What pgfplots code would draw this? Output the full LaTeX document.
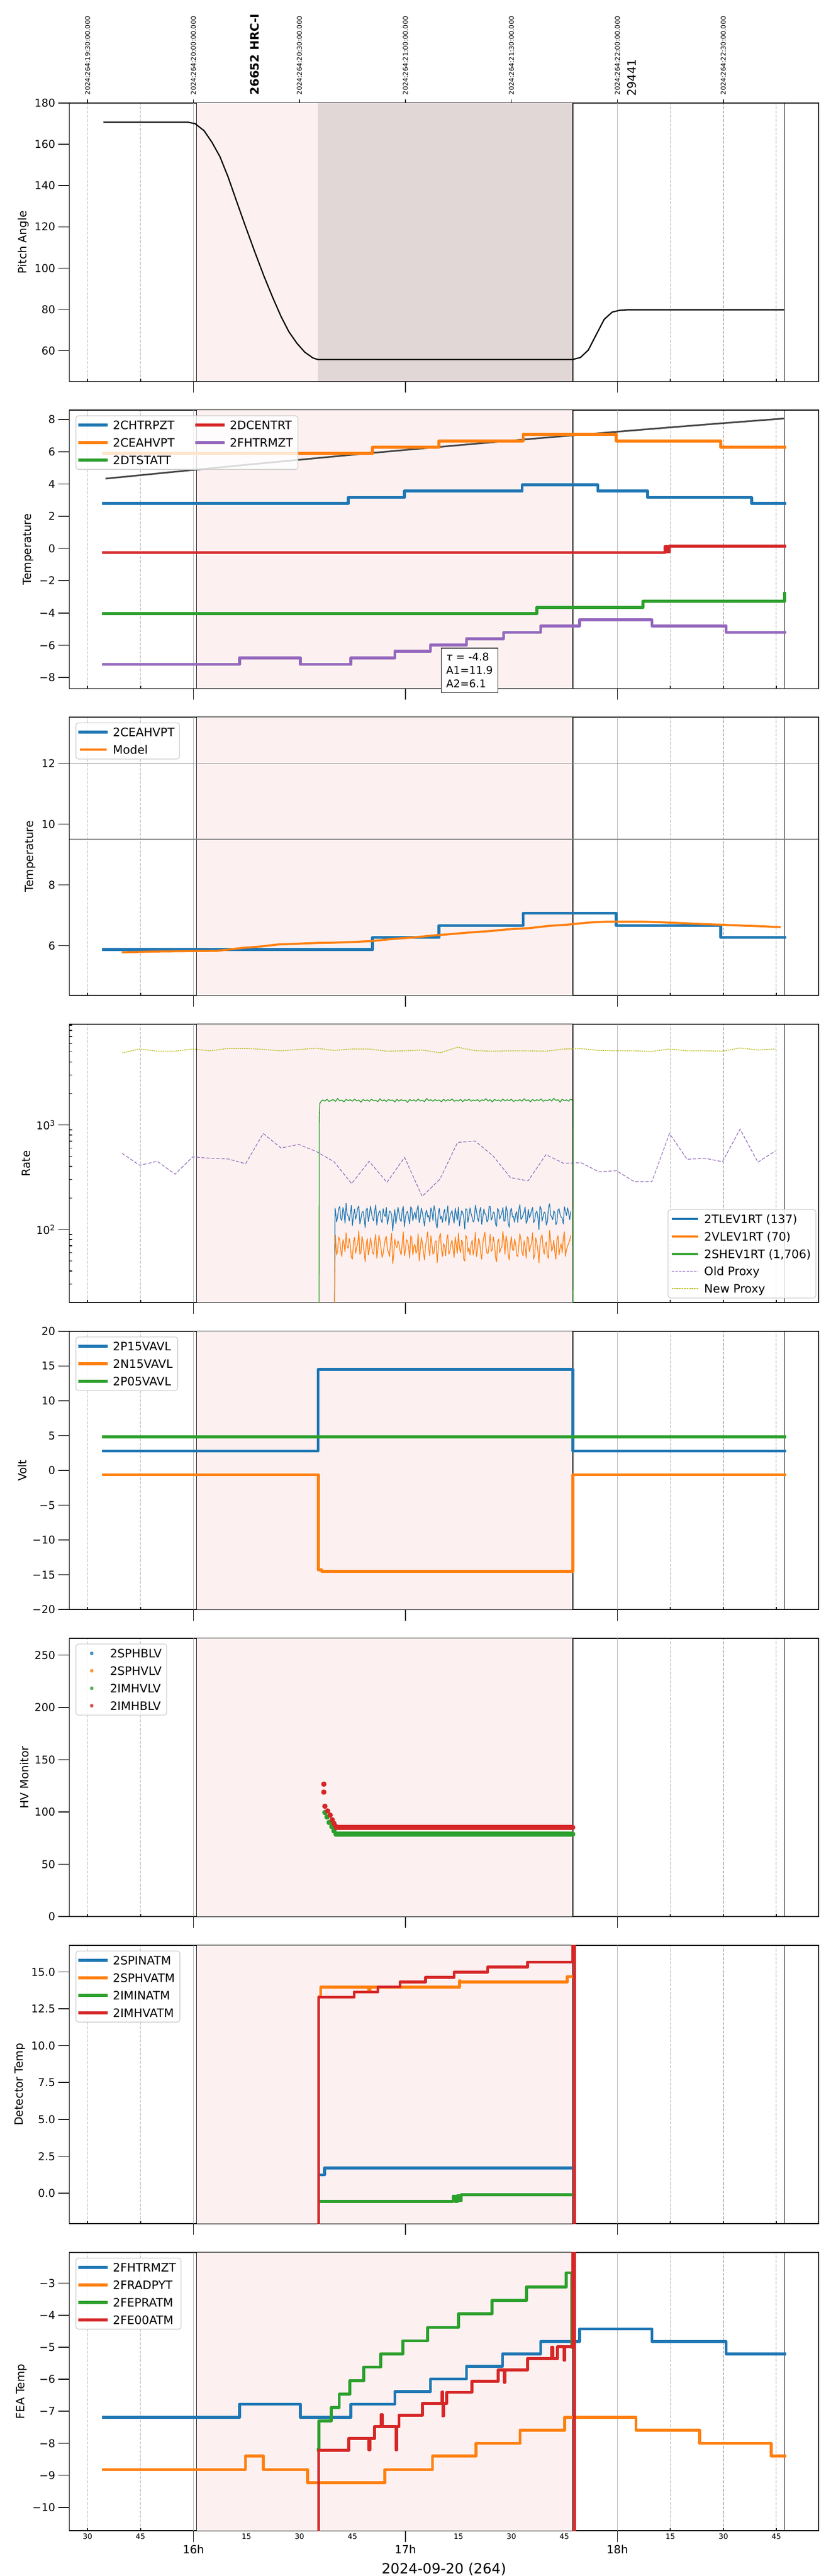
\documentclass[border=0pt]{standalone}
\usepackage{fontspec}
\setmainfont{DejaVu Sans}
\usepackage{pgfplots}
\pgfplotsset{compat=1.18}
\definecolor{C0}{HTML}{1F77B4}
\definecolor{C1}{HTML}{FF7F0E}
\definecolor{C2}{HTML}{2CA02C}
\definecolor{C3}{HTML}{D62728}
\definecolor{C4}{HTML}{9467BD}
\definecolor{C8}{HTML}{BCBD22}
\definecolor{gridgray}{HTML}{B0B0B0}
\definecolor{legframe}{HTML}{CCCCCC}
\definecolor{pinkbg}{HTML}{FCF0F0}
\newcommand{\fs}[1]{\fontsize{#1}{#1}\selectfont}
\pgfplotsset{
  panel/.style={
    scale only axis, width=901.5pt, height=335pt,
    xmin=15.4145, xmax=18.949,
    clip mode=individual,
    axis line style={line width=1pt},
    tick style={line width=1pt, color=black},
    tick align=inside,
    major tick length=3.5pt,
    xtick pos=bottom, ytick pos=left,
    xtick={15.5,15.75,16.25,16.5,16.75,17.25,17.5,17.75,18.25,18.5,18.75},
    xticklabels={},
    xmajorgrids=true,
    major grid style={gridgray, line width=0.65pt, dash pattern=on 3.5pt off 1.7pt},
    extra x ticks={16,17,18},
    extra x tick labels={},
    extra x tick style={tick align=outside, major tick length=13.5pt, xmajorgrids=true, major grid style={gridgray, line width=0.8pt, solid}},
    ytick=\empty,
    extra y tick style={tick align=outside, major tick length=13.5pt, ymajorgrids=false},
    tick label style={font=\fs{13}},
    ylabel style={font=\fs{13.5}},
    legend cell align=left,
    legend style={at={(0.0083,0.9806)}, anchor=north west, draw=legframe, line width=0.8pt,
      rounded corners=3pt, fill=white, fill opacity=0.8, text opacity=1, draw opacity=1,
      font=\fs{14}, inner sep=3pt, row sep=4.5pt,
      nodes={inner sep=3pt, text height=10.5pt, text depth=0pt},
      /tikz/every odd column/.append style={column sep=3pt},
      /tikz/every even column/.append style={column sep=22pt}},
    legend image code/.code={\draw[#1] (0pt,0pt) -- (32pt,0pt);},
  },
  dl/.style={line width=3.5pt, line join=round, line cap=rect, const plot},
}
\newcommand{\bg}{%
  \fill[pinkbg] ({axis cs:16.015,1}|-{rel axis cs:0,0}) rectangle ({axis cs:17.79,1}|-{rel axis cs:0,1});
  \draw[black, line width=0.6pt] ({axis cs:16.015,1}|-{rel axis cs:0,0}) -- ({axis cs:16.015,1}|-{rel axis cs:0,1});
  \draw[black, line width=0.85pt] ({axis cs:17.79,1}|-{rel axis cs:0,0}) -- ({axis cs:17.79,1}|-{rel axis cs:0,1});
  \draw[black, line width=0.85pt] ({axis cs:18.788,1}|-{rel axis cs:0,0}) -- ({axis cs:18.788,1}|-{rel axis cs:0,1});
}
\begin{document}
\begin{tikzpicture}
\path[use as bounding box] (0,0) rectangle (1000pt,-3100pt);

% ---------------- Panel 1: Pitch angle
\begin{axis}[panel, at={(83.5pt,-124pt)}, anchor=north west, ymin=45.1, ymax=180,
  extra y ticks={60,80,100,120,140,160,180}, extra y tick labels={60,80,100,120,140,160,180},
  ylabel={Pitch Angle}]
\bg
\fill[black, opacity=0.1] ({axis cs:16.587,1}|-{rel axis cs:0,0}) rectangle ({axis cs:17.79,1}|-{rel axis cs:0,1});
\addplot[black, line width=1.5pt, line join=round] coordinates {
(15.575,170.7) (15.975,170.7) (16.0075,170.0) (16.05,166.6) (16.087,161.0) (16.125,154.0)
(16.1625,144.4) (16.2,133.4) (16.242,121.2) (16.287,108.5) (16.333,96.0) (16.375,85.5)
(16.413,76.6) (16.45,69.2) (16.488,63.6) (16.525,59.3) (16.563,56.5) (16.587,55.7)
(17.788,55.7) (17.826,56.7) (17.863,60.3) (17.9,67.7) (17.938,75.2) (17.976,78.7)
(18.012,79.6) (18.05,79.8) (18.788,79.8)};
\draw[line width=1pt] (axis cs:15.5,180) -- ++(0pt,4.5pt);
\draw[line width=1pt] (axis cs:16.0,180) -- ++(0pt,4.5pt);
\draw[line width=1pt] (axis cs:16.5,180) -- ++(0pt,4.5pt);
\draw[line width=1pt] (axis cs:17.0,180) -- ++(0pt,4.5pt);
\draw[line width=1pt] (axis cs:17.5,180) -- ++(0pt,4.5pt);
\draw[line width=1pt] (axis cs:18.0,180) -- ++(0pt,4.5pt);
\draw[line width=1pt] (axis cs:18.5,180) -- ++(0pt,4.5pt);
\node[rotate=90, anchor=west, inner sep=0pt, font=\fs{8}] at (axis cs:15.5,180) {\hspace{9.6pt}2024:264:19:30:00.000};
\node[rotate=90, anchor=west, inner sep=0pt, font=\fs{8}] at (axis cs:16.0,180) {\hspace{9.6pt}2024:264:20:00:00.000};
\node[rotate=90, anchor=west, inner sep=0pt, font=\fs{8}] at (axis cs:16.5,180) {\hspace{9.6pt}2024:264:20:30:00.000};
\node[rotate=90, anchor=west, inner sep=0pt, font=\fs{8}] at (axis cs:17.0,180) {\hspace{9.6pt}2024:264:21:00:00.000};
\node[rotate=90, anchor=west, inner sep=0pt, font=\fs{8}] at (axis cs:17.5,180) {\hspace{9.6pt}2024:264:21:30:00.000};
\node[rotate=90, anchor=west, inner sep=0pt, font=\fs{8}] at (axis cs:18.0,180) {\hspace{9.6pt}2024:264:22:00:00.000};
\node[rotate=90, anchor=west, inner sep=0pt, font=\fs{8}] at (axis cs:18.5,180) {\hspace{9.6pt}2024:264:22:30:00.000};
\node[rotate=90, anchor=west, inner sep=0pt, font=\bfseries\fs{14}] at (axis cs:16.288,180) {\hspace{9.6pt}26652 HRC-I};
\node[rotate=90, anchor=west, inner sep=0pt, font=\fs{14}] at (axis cs:18.067,180) {\hspace{8pt}29441};
\end{axis}

% ---------------- Panel 2: Temperature
\begin{axis}[panel, at={(83.5pt,-493.5pt)}, anchor=north west, ymin=-8.68, ymax=8.58,
  extra y ticks={-8,-6,-4,-2,0,2,4,6,8}, extra y tick labels={−8,−6,−4,−2,0,2,4,6,8},
  ylabel={Temperature}, legend columns=2]
\bg
\addplot[black!72, line width=2pt, forget plot] coordinates {
(15.585,4.33) (16.0,4.87) (16.25,5.19) (16.5,5.50) (16.75,5.81) (17.0,6.11) (17.25,6.40)
(17.5,6.69) (17.75,6.97) (18.0,7.24) (18.25,7.51) (18.5,7.77) (18.789,8.06)};
\addplot[dl, C0] coordinates {(15.575,2.79) (16.730,3.16) (16.995,3.56) (17.551,3.94) (17.908,3.56) (18.143,3.16) (18.634,2.79) (18.789,2.79)};
\addlegendentry{2CHTRPZT}
\addplot[dl, C3] coordinates {(15.575,-0.25) (18.225,0.12) (18.235,-0.2) (18.245,0.14) (18.789,0.14)};
\addlegendentry{2DCENTRT}
\addplot[dl, C1] coordinates {(15.575,5.90) (16.845,6.28) (17.158,6.67) (17.556,7.08) (17.995,6.67) (18.488,6.28) (18.789,6.28)};
\addlegendentry{2CEAHVPT}
\addplot[dl, C4] coordinates {(15.575,-7.19) (16.217,-6.78) (16.505,-7.19) (16.743,-6.78) (16.950,-6.38) (17.118,-5.98) (17.288,-5.60) (17.463,-5.20) (17.638,-4.81) (17.821,-4.43) (18.163,-4.81) (18.513,-5.20) (18.789,-5.20)};
\addlegendentry{2FHTRMZT}
\addplot[dl, C2] coordinates {(15.575,-4.04) (17.620,-3.66) (18.121,-3.27) (18.785,-3.27) (18.789,-2.80)};
\addlegendentry{2DTSTATT}
\node[draw=black, line width=1pt, fill=white, anchor=north west, align=left, inner sep=6pt,
  font=\fontsize{12.8}{16}\selectfont] at (axis cs:17.167,-6.15) {\textit{τ} = -4.8\\A1=11.9\\A2=6.1};
\end{axis}

% ---------------- Panel 3: Temperature (model)
\begin{axis}[panel, at={(83.5pt,-863pt)}, anchor=north west, ymin=4.36, ymax=13.52,
  extra y ticks={6,8,10,12}, extra y tick labels={6,8,10,12},
  ylabel={Temperature}]
\bg
\addplot[gray, line width=1pt, forget plot] coordinates {(15.4145,12) (18.949,12)};
\addplot[gray, line width=1pt, forget plot] coordinates {(15.4145,9.5) (18.949,9.5)};
\addplot[dl, C0] coordinates {(15.575,5.87) (16.845,6.27) (17.158,6.66) (17.556,7.07) (17.995,6.66) (18.488,6.27) (18.789,6.27)};
\addlegendentry{2CEAHVPT}
\addplot[C1, line width=2.5pt, line join=round] coordinates {
(15.662,5.78) (15.837,5.81) (16.113,5.83) (16.237,5.93) (16.313,5.97) (16.400,6.04)
(16.588,6.09) (16.663,6.10) (16.750,6.12) (16.838,6.15) (16.938,6.22) (17.038,6.27)
(17.138,6.34) (17.213,6.38) (17.313,6.44) (17.400,6.48) (17.488,6.54) (17.588,6.58)
(17.676,6.65) (17.763,6.69) (17.863,6.76) (17.951,6.79) (18.126,6.79) (18.238,6.76)
(18.313,6.74) (18.401,6.71) (18.488,6.69) (18.588,6.66) (18.676,6.64) (18.771,6.61)};
\addlegendentry{Model}
\end{axis}

% ---------------- Panel 4: Rate (log)
\begin{axis}[panel, at={(83.5pt,-1232.5pt)}, anchor=north west, ymode=log, ymin=20, ymax=9200,
  ytick={20,30,40,50,60,70,80,90,200,300,400,500,600,700,800,900,2000,3000,4000,5000,6000,7000,8000,9000},
  yticklabels={},
  extra y ticks={100,1000}, extra y tick labels={10\textsuperscript{2},10\textsuperscript{3}},
  ylabel={Rate},
  legend style={at={(0.997,0.015)}, anchor=south east}]
\bg
\addplot[C8, line width=1pt, dash pattern=on 1.6pt off 1pt, forget plot] coordinates {
(15.663,4877) (15.746,5325) (15.829,5072) (15.913,5072) (15.996,5325) (16.079,5117) (16.163,5395)
(16.246,5395) (16.329,5277) (16.413,5117) (16.496,5257) (16.579,5420) (16.663,5163) (16.746,5325)
(16.829,5325) (16.913,5072) (16.996,5117) (17.079,5212) (17.163,4898) (17.246,5536) (17.329,5140)
(17.413,5072) (17.496,5117) (17.579,5117) (17.663,5072) (17.746,5325) (17.829,5370) (17.913,5163)
(17.996,5117) (18.079,5117) (18.163,5047) (18.246,5325) (18.329,5117) (18.413,5117) (18.496,5072)
(18.579,5445) (18.663,5212) (18.746,5325)};
\addplot[C4, line width=0.8pt, dash pattern=on 4pt off 2pt, forget plot] coordinates {
(15.663,535) (15.746,411) (15.829,449) (15.913,338) (15.996,494) (16.079,480) (16.163,473)
(16.246,426) (16.329,828) (16.413,602) (16.496,651) (16.579,558) (16.663,445) (16.746,275)
(16.829,449) (16.913,282) (16.996,490) (17.079,207) (17.163,303) (17.246,680) (17.329,701)
(17.413,507) (17.496,313) (17.579,292) (17.663,519) (17.746,430) (17.829,435) (17.913,356)
(17.996,365) (18.079,287) (18.163,287) (18.246,828) (18.329,469) (18.413,480) (18.496,445)
(18.579,912) (18.663,440) (18.746,564)};
\addplot[C2, line width=1pt, line join=round, forget plot] coordinates {
(16.5925,5) (16.5935,1200) (16.596,1600)
(16.60,1660) (16.61,1735) (16.62,1690) (16.63,1760) (16.64,1675) (16.65,1720) (16.66,1745) (16.67,1680)
(16.68,1790) (16.69,1700) (16.70,1725) (16.71,1665) (16.72,1755) (16.73,1710) (16.74,1740) (16.75,1685)
(16.76,1770) (16.77,1695) (16.78,1730) (16.79,1650) (16.80,1750) (16.81,1705) (16.82,1735) (16.83,1680)
(16.84,1765) (16.85,1700) (16.86,1720) (16.87,1670) (16.88,1780) (16.89,1695) (16.90,1740) (16.91,1675)
(16.92,1750) (16.93,1715) (16.94,1730) (16.95,1660) (16.96,1760) (16.97,1690) (16.98,1745) (16.99,1705)
(17.00,1725) (17.01,1640) (17.02,1755) (17.03,1700) (17.04,1735) (17.05,1680) (17.06,1770) (17.07,1695)
(17.08,1720) (17.09,1670) (17.10,1790) (17.11,1710) (17.12,1740) (17.13,1685) (17.14,1750) (17.15,1700)
(17.16,1730) (17.17,1665) (17.18,1760) (17.19,1690) (17.20,1745) (17.21,1705) (17.22,1775) (17.23,1680)
(17.24,1725) (17.25,1695) (17.26,1755) (17.27,1670) (17.28,1740) (17.29,1710) (17.30,1765) (17.31,1685)
(17.32,1730) (17.33,1700) (17.34,1750) (17.35,1675) (17.36,1735) (17.37,1715) (17.38,1785) (17.39,1690)
(17.40,1745) (17.41,1660) (17.42,1755) (17.43,1705) (17.44,1730) (17.45,1680) (17.46,1770) (17.47,1695)
(17.48,1740) (17.49,1710) (17.50,1760) (17.51,1675) (17.52,1725) (17.53,1700) (17.54,1750) (17.55,1685)
(17.56,1780) (17.57,1705) (17.58,1735) (17.59,1665) (17.60,1755) (17.61,1695) (17.62,1740) (17.63,1710)
(17.64,1775) (17.65,1680) (17.66,1730) (17.67,1700) (17.68,1760) (17.69,1690) (17.70,1795) (17.71,1715)
(17.72,1745) (17.73,1650) (17.74,1765) (17.75,1705) (17.76,1735) (17.77,1685) (17.78,1770) (17.788,1720)
(17.790,5)};
\addplot[C0, line width=0.9pt, line join=round, forget plot] coordinates {
(16.664,5) (16.668,160)
(16.670,152) (16.675,118) (16.680,131) (16.685,158) (16.690,166) (16.695,127) (16.700,122) (16.705,162) (16.710,148) (16.715,115) (16.720,178) (16.725,140) (16.730,134) (16.735,121) (16.740,141) (16.745,170)
(16.750,109) (16.755,136) (16.760,157) (16.765,125) (16.770,139) (16.775,160) (16.780,168) (16.785,113) (16.790,126) (16.795,145) (16.800,149) (16.805,130) (16.810,104) (16.815,155) (16.820,160) (16.825,119)
(16.830,136) (16.835,167) (16.840,144) (16.845,128) (16.850,121) (16.855,150) (16.860,172) (16.865,110) (16.870,133) (16.875,146) (16.880,151) (16.885,124) (16.890,116) (16.895,158) (16.900,139) (16.905,133)
(16.910,163) (16.915,112) (16.920,128) (16.925,150) (16.930,147) (16.935,138) (16.940,97) (16.945,127) (16.950,155) (16.955,114) (16.960,135) (16.965,163) (16.970,142) (16.975,124) (16.980,119) (16.985,153)
(16.990,166) (16.995,106) (17.000,131) (17.005,144) (17.010,149) (17.015,129) (17.020,113) (17.025,165) (17.030,158) (17.035,121) (17.040,137) (17.045,147) (17.050,125) (17.055,155) (17.060,170) (17.065,116)
(17.070,130) (17.075,160) (17.080,145) (17.085,127) (17.090,108) (17.095,141) (17.100,153) (17.105,132) (17.110,136) (17.115,118) (17.120,161) (17.125,149) (17.130,122) (17.135,169) (17.140,150) (17.145,112)
(17.150,103) (17.155,141) (17.160,159) (17.165,126) (17.170,134) (17.175,117) (17.180,143) (17.185,156) (17.190,120) (17.195,138) (17.200,168) (17.205,110) (17.210,132) (17.215,143) (17.220,152) (17.225,127)
(17.230,115) (17.235,160) (17.240,139) (17.245,123) (17.250,164) (17.255,108) (17.260,127) (17.265,151) (17.270,146) (17.275,132) (17.280,101) (17.285,158) (17.290,155) (17.295,117) (17.300,136) (17.305,161)
(17.310,141) (17.315,130) (17.320,118) (17.325,124) (17.330,171) (17.335,151) (17.340,130) (17.345,119) (17.350,148) (17.355,163) (17.360,112) (17.365,129) (17.370,157) (17.375,142) (17.380,138) (17.385,118)
(17.390,124) (17.395,166) (17.400,166) (17.405,123) (17.410,131) (17.415,147) (17.420,144) (17.425,113) (17.430,107) (17.435,159) (17.440,152) (17.445,126) (17.450,135) (17.455,144) (17.460,162) (17.465,120)
(17.470,121) (17.475,168) (17.480,149) (17.485,115) (17.490,105) (17.495,150) (17.500,160) (17.505,132) (17.510,133) (17.515,117) (17.520,140) (17.525,148) (17.530,117) (17.535,154) (17.540,173) (17.545,125)
(17.550,129) (17.555,138) (17.560,147) (17.565,164) (17.570,114) (17.575,122) (17.580,156) (17.585,129) (17.590,137) (17.595,152) (17.600,163) (17.605,116) (17.610,123) (17.615,143) (17.620,150) (17.625,131)
(17.630,100) (17.635,167) (17.640,158) (17.645,120) (17.650,134) (17.655,147) (17.660,142) (17.665,110) (17.670,119) (17.675,162) (17.680,176) (17.685,137) (17.690,132) (17.695,124) (17.700,151) (17.705,144)
(17.710,111) (17.715,118) (17.720,154) (17.725,158) (17.730,139) (17.735,131) (17.740,128) (17.745,113) (17.750,165) (17.755,150) (17.760,136) (17.765,161) (17.770,145) (17.775,124) (17.780,149)};
\addplot[C1, line width=0.9pt, line join=round, forget plot] coordinates {
(16.662,5) (16.668,55)
(16.670,88) (16.675,57) (16.680,62) (16.685,85) (16.690,79) (16.695,63) (16.700,55) (16.705,80) (16.710,74) (16.715,61) (16.720,93) (16.725,69) (16.730,66) (16.735,82) (16.740,71) (16.745,54)
(16.750,52) (16.755,76) (16.760,84) (16.765,59) (16.770,68) (16.775,73) (16.780,97) (16.785,58) (16.790,60) (16.795,86) (16.800,76) (16.805,62) (16.810,49) (16.815,71) (16.820,82) (16.825,57)
(16.830,65) (16.835,83) (16.840,73) (16.845,60) (16.850,58) (16.855,77) (16.860,90) (16.865,53) (16.870,64) (16.875,88) (16.880,78) (16.885,66) (16.890,54) (16.895,59) (16.900,70) (16.905,81)
(16.910,86) (16.915,64) (16.920,61) (16.925,55) (16.930,75) (16.935,92) (16.940,47) (16.945,58) (16.950,81) (16.955,70) (16.960,67) (16.965,78) (16.970,72) (16.975,62) (16.980,57) (16.985,74)
(16.990,95) (16.995,56) (17.000,63) (17.005,80) (17.010,77) (17.015,68) (17.020,53) (17.025,87) (17.030,83) (17.035,57) (17.040,69) (17.045,72) (17.050,59) (17.055,63) (17.060,91) (17.065,50)
(17.070,64) (17.075,84) (17.080,74) (17.085,61) (17.090,51) (17.095,70) (17.100,80) (17.105,95) (17.110,66) (17.115,56) (17.120,87) (17.125,73) (17.130,58) (17.135,60) (17.140,76) (17.145,78)
(17.150,48) (17.155,66) (17.160,84) (17.165,92) (17.170,65) (17.175,55) (17.180,73) (17.185,69) (17.190,56) (17.195,81) (17.200,89) (17.205,58) (17.210,62) (17.215,73) (17.220,79) (17.225,64)
(17.230,54) (17.235,85) (17.240,71) (17.245,59) (17.250,92) (17.255,67) (17.260,60) (17.265,79) (17.270,75) (17.275,52) (17.280,50) (17.285,88) (17.290,82) (17.295,61) (17.300,67) (17.305,57)
(17.310,72) (17.315,79) (17.320,57) (17.325,66) (17.330,94) (17.335,55) (17.340,63) (17.345,82) (17.350,77) (17.355,60) (17.360,52) (17.365,73) (17.370,85) (17.375,94) (17.380,68) (17.385,59)
(17.390,59) (17.395,71) (17.400,90) (17.405,62) (17.410,64) (17.415,85) (17.420,74) (17.425,54) (17.430,49) (17.435,76) (17.440,81) (17.445,60) (17.450,66) (17.455,68) (17.460,96) (17.465,77)
(17.470,58) (17.475,87) (17.480,76) (17.485,58) (17.490,51) (17.495,72) (17.500,86) (17.505,64) (17.510,63) (17.515,81) (17.520,73) (17.525,57) (17.530,55) (17.535,70) (17.540,91) (17.545,80)
(17.550,61) (17.555,56) (17.560,78) (17.565,68) (17.570,53) (17.575,85) (17.580,83) (17.585,61) (17.590,69) (17.595,74) (17.600,93) (17.605,52) (17.610,57) (17.615,83) (17.620,75) (17.625,63)
(17.630,48) (17.635,71) (17.640,84) (17.645,89) (17.650,65) (17.655,58) (17.660,72) (17.665,76) (17.670,56) (17.675,53) (17.680,98) (17.685,82) (17.690,62) (17.695,66) (17.700,79) (17.705,61)
(17.710,52) (17.715,80) (17.720,87) (17.725,57) (17.730,67) (17.735,73) (17.740,60) (17.745,84) (17.750,95) (17.755,55) (17.760,64) (17.765,69) (17.770,74) (17.775,78) (17.780,88)};
\addlegendimage{C0, line width=2.5pt}
\addlegendentry{2TLEV1RT (137)}
\addlegendimage{C1, line width=2.5pt}
\addlegendentry{2VLEV1RT (70)}
\addlegendimage{C2, line width=2.5pt}
\addlegendentry{2SHEV1RT (1,706)}
\addlegendimage{C4, line width=1.2pt, dash pattern=on 3pt off 1.5pt}
\addlegendentry{Old Proxy}
\addlegendimage{C8, line width=1.2pt, dash pattern=on 2pt off 1pt}
\addlegendentry{New Proxy}
\end{axis}

% ---------------- Panel 5: Volt
\begin{axis}[panel, at={(83.5pt,-1602pt)}, anchor=north west, ymin=-20, ymax=20,
  extra y ticks={-20,-15,-10,-5,0,5,10,15,20}, extra y tick labels={−20,−15,−10,−5,0,5,10,15,20},
  ylabel={Volt}]
\bg
\addplot[dl, C0] coordinates {(15.575,2.77) (16.588,14.5) (17.79,2.77) (18.789,2.77)};
\addlegendentry{2P15VAVL}
\addplot[dl, C1] coordinates {(15.575,-0.62) (16.590,-14.3) (16.605,-14.5) (17.79,-0.62) (18.789,-0.62)};
\addlegendentry{2N15VAVL}
\addplot[dl, C2] coordinates {(15.575,4.83) (18.789,4.83)};
\addlegendentry{2P05VAVL}
\end{axis}

% ---------------- Panel 6: HV Monitor
\begin{axis}[panel, at={(83.5pt,-1971.5pt)}, anchor=north west, ymin=0, ymax=266,
  extra y ticks={0,50,100,150,200,250}, extra y tick labels={0,50,100,150,200,250},
  ylabel={HV Monitor},
  legend image code/.code={\path[draw=none, fill=none] (0pt,0pt) -- (32pt,0pt); \fill[#1, draw=none] (16pt,0pt) circle (2.2pt);}]
\bg
\addlegendimage{C0}
\addlegendentry{2SPHBLV}
\addlegendimage{C1}
\addlegendentry{2SPHVLV}
\addlegendimage{C2}
\addlegendentry{2IMHVLV}
\addlegendimage{C3}
\addlegendentry{2IMHBLV}
\addplot[only marks, mark=*, mark size=3pt, C2, forget plot] coordinates {(16.620,99.5) (16.630,95.3) (16.640,90) (16.653,86) (16.663,82) (16.673,78.8)};
\addplot[C2, line width=6pt, line cap=round, forget plot] coordinates {(16.673,78.8) (17.79,78.8)};
\addplot[only marks, mark=*, mark size=3pt, C3, forget plot] coordinates {(16.615,126.6) (16.615,119) (16.620,105.5) (16.633,101) (16.645,97) (16.655,92.5) (16.663,89) (16.673,86)};
\addplot[C3, line width=6pt, line cap=round, forget plot] coordinates {(16.673,85.4) (17.79,85.4)};
\end{axis}

% ---------------- Panel 7: Detector Temp
\begin{axis}[panel, at={(83.5pt,-2341pt)}, anchor=north west, ymin=-2.06, ymax=16.8,
  extra y ticks={0,2.5,5,7.5,10,12.5,15}, extra y tick labels={0.0,2.5,5.0,7.5,10.0,12.5,15.0},
  ylabel={Detector Temp}]
\bg
\addplot[dl, C0] coordinates {(16.600,1.25) (16.618,1.72) (17.783,1.72)};
\addlegendentry{2SPINATM}
\addplot[dl, C1] coordinates {(16.595,13.3) (16.600,13.96) (16.828,13.75) (16.833,13.96) (17.255,14.4) (17.258,14.31) (17.763,14.68) (17.783,14.68)};
\addlegendentry{2SPHVATM}
\addplot[dl, C2] coordinates {(16.600,-0.55) (17.225,-0.2) (17.235,-0.55) (17.245,-0.15) (17.255,-0.5) (17.263,-0.11) (17.783,-0.11)};
\addlegendentry{2IMINATM}
\addplot[dl, C3] coordinates {(16.590,-10) (16.591,13.29) (16.758,13.64) (16.870,13.98) (16.975,14.32) (17.095,14.62) (17.230,14.99) (17.388,15.32) (17.576,15.66) (17.790,40) (17.797,-10) (17.80,-10)};
\addlegendentry{2IMHVATM}
\end{axis}

% ---------------- Panel 8: FEA Temp
\begin{axis}[panel, at={(83.5pt,-2710.5pt)}, anchor=north west, ymin=-10.73, ymax=-2.04,
  extra y ticks={-10,-9,-8,-7,-6,-5,-4,-3}, extra y tick labels={−10,−9,−8,−7,−6,−5,−4,−3},
  ylabel={FEA Temp},
  xticklabels={30,45,15,30,45,15,30,45,15,30,45},
  xticklabel style={font=\fs{9}},
  extra x tick labels={16h,17h,18h},
  extra x tick style={tick label style={font=\fs{13.5}}, xticklabel style={font=\fs{13.5}}},
  xlabel={2024-09-20 (264)},
  xlabel style={font=\fs{17}, at={(axis description cs:0.5,0)}, anchor=north, yshift=-35pt}]
\bg
\addplot[dl, C0] coordinates {(15.575,-7.19) (16.217,-6.78) (16.505,-7.19) (16.743,-6.78) (16.950,-6.39) (17.118,-5.99) (17.288,-5.60) (17.458,-5.21) (17.638,-4.82) (17.821,-4.43) (18.163,-4.82) (18.513,-5.21) (18.789,-5.21)};
\addlegendentry{2FHTRMZT}
\addplot[dl, C1] coordinates {(15.575,-8.82) (16.245,-8.40) (16.330,-8.82) (16.538,-9.23) (16.903,-8.82) (17.128,-8.40) (17.333,-8.00) (17.541,-7.59) (17.751,-7.19) (18.088,-7.59) (18.388,-8.00) (18.726,-8.40) (18.789,-8.40)};
\addlegendentry{2FRADPYT}
\addplot[dl, C2] coordinates {(16.590,-8.2) (16.592,-7.30) (16.650,-6.88) (16.688,-6.47) (16.738,-6.05) (16.803,-5.62) (16.883,-5.21) (16.988,-4.80) (17.105,-4.38) (17.250,-3.96) (17.408,-3.54) (17.571,-3.12) (17.758,-2.68) (17.785,-5.0) (17.788,-5.0)};
\addlegendentry{2FEPRATM}
\addplot[dl, C3] coordinates {(16.590,-11) (16.591,-8.22) (16.733,-7.85) (16.828,-8.2) (16.833,-7.85) (16.855,-7.48) (16.885,-7.1) (16.890,-7.48) (16.955,-8.2) (16.960,-7.48) (16.970,-7.12) (17.080,-6.76) (17.172,-6.4) (17.176,-7.15) (17.180,-6.76) (17.195,-6.41) (17.313,-6.06) (17.438,-5.71) (17.466,-6.1) (17.470,-5.71) (17.576,-5.36) (17.690,-5.0) (17.695,-5.36) (17.718,-4.99) (17.748,-5.4) (17.752,-4.99) (17.790,0) (17.797,-11) (17.80,-11)};
\addlegendentry{2FE00ATM}
\end{axis}
\end{tikzpicture}
\end{document}
